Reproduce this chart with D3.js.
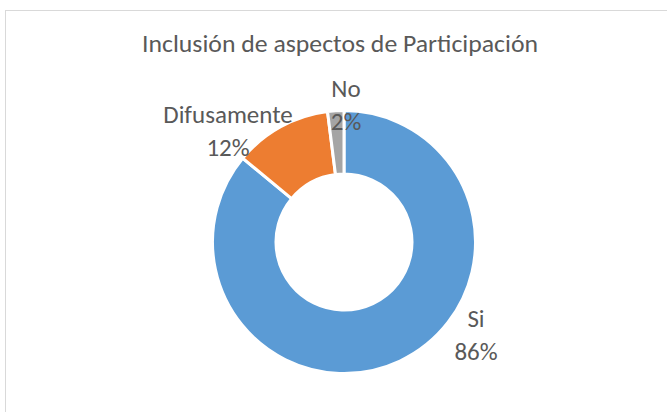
<!DOCTYPE html>
<html>
<head>
<meta charset="utf-8">
<script src="https://cdn.jsdelivr.net/npm/d3@7"></script>
<style>
  html, body { margin: 0; padding: 0; background: #fff; }
  svg { display: block; }
  text { font-family: "Carlito", "Calibri", "Open Sans", sans-serif; fill: #595959; }
</style>
</head>
<body>
<svg id="chart" width="667" height="412"></svg>
<script>
const title = "Inclusión de aspectos de Participación";
const categories = ["Si", "Difusamente", "No"];
const values = [86, 12, 2];
const colors = ["#5B9BD5", "#ED7D31", "#A5A5A5"];

const W = 667, H = 412;
const svg = d3.select("#chart");

// chart border
svg.append("rect")
  .attr("x", 5.5).attr("y", 10.5)
  .attr("width", 670).attr("height", 420)
  .attr("fill", "none").attr("stroke", "#D9D9D9").attr("stroke-width", 1);

// title
svg.append("text")
  .attr("x", 340).attr("y", 52)
  .attr("text-anchor", "middle")
  .attr("font-size", 23.5)
  .attr("textLength", 396)
  .attr("lengthAdjust", "spacingAndGlyphs")
  .text(title);

const cx = 344, cy = 242, outerR = 131.5, innerR = 68;
const data = categories.map((c, i) => ({ cat: c, value: values[i], color: colors[i] }));
const total = d3.sum(values);

const pie = d3.pie().value(d => d.value).sort(null);
const arc = d3.arc().innerRadius(innerR).outerRadius(outerR);
const arcs = pie(data);

const g = svg.append("g").attr("transform", `translate(${cx},${cy})`);
g.selectAll("path").data(arcs).enter().append("path")
  .attr("d", arc)
  .attr("fill", d => d.data.color)
  .attr("stroke", "#fff")
  .attr("stroke-width", 3)
  .attr("stroke-linejoin", "miter");

// label positions (offset outside the ring, per slice)
const labelPos = {
  "Si": [476, 327],
  "Difusamente": [228, 123],
  "No": [346, 97]
};
const lbl = svg.append("g");
data.forEach(d => {
  const [x, y] = labelPos[d.cat];
  const t = lbl.append("text")
    .attr("x", x).attr("y", y)
    .attr("text-anchor", "middle")
    .attr("font-size", 25);
  t.append("tspan").attr("x", x).attr("dy", 0).text(d.cat);
  t.append("tspan").attr("x", x).attr("dy", 32.5)
    .text(d3.format(".0%")(d.value / total));
});
</script>
</body>
</html>
